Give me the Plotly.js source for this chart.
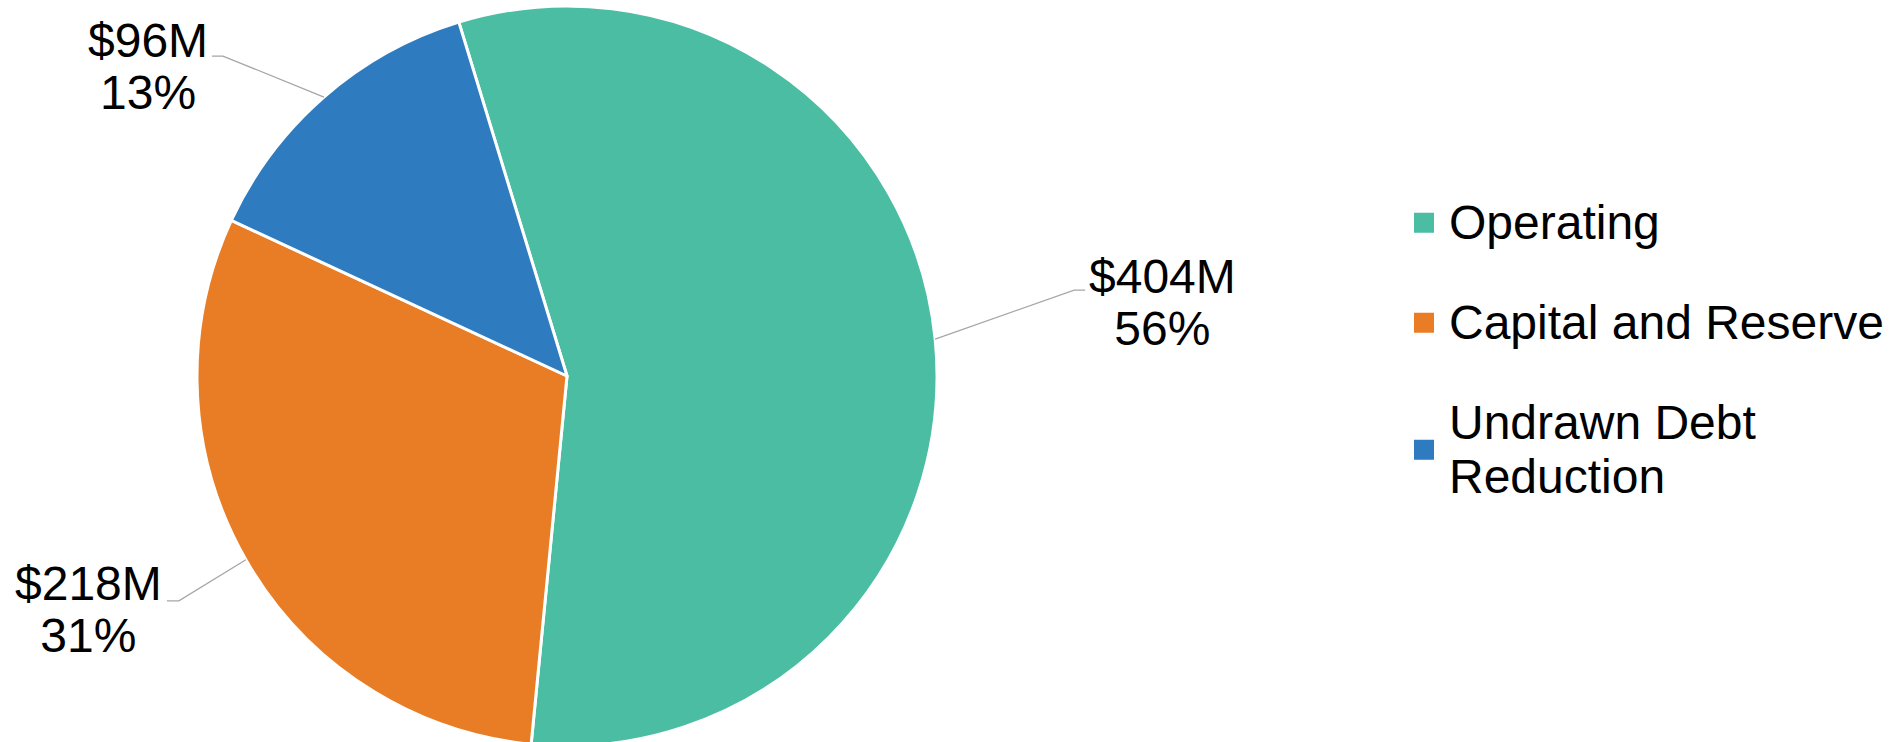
<!DOCTYPE html>
<html><head><meta charset="utf-8">
<script src="https://cdn.plot.ly/plotly-3.0.1.min.js"></script>
<style>html,body{margin:0;padding:0;overflow:hidden;background:#fff}#chart{width:1901px;height:746px}</style>
</head><body><div id="chart"></div>
<script>
// ---- data ----
const categories = ['Operating', 'Capital and Reserve', 'Undrawn Debt<br>Reduction'];
const values = [404, 218, 96];
const valueLabels = ['$404M', '$218M', '$96M'];
const percentLabels = ['56%', '31%', '13%'];
const colors = ['#4BBDA3', '#E97D25', '#2E7BBF'];

// ---- layout geometry / style ----
const W = 1901, H = 746, T = 6, PH = 740;
const CX = 567, CY = 376, R = 370;
const ROT = -17;
const FONT = 'Liberation Sans, Arial, sans-serif';
const TXT = 48;
const labelStyle = [
  {elbow: [139, -49], tail: 11, text: [227, -37]},
  {elbow: [-67, 41], tail: -12, text: [-157, 50]},
  {elbow: [-101, -41], tail: -11, text: [-176, -31]}
];

const px = x => x / W;
const py = y => 1 - (y - T) / PH;
const span = s => s.split('<br>').map(l => '<span style="font-size:' + TXT + 'px">' + l + '</span>').join('<br>');

const total = values.reduce((a, b) => a + b, 0);
let cum = 0;
const annotations = [], shapes = [];
values.forEach((v, i) => {
  const th = (ROT + 360 * (cum + v / 2) / total) * Math.PI / 180;
  cum += v;
  const ex = CX + R * Math.sin(th), ey = CY - R * Math.cos(th);
  const st = labelStyle[i];
  const bx = ex + st.elbow[0], by = ey + st.elbow[1];
  const tx = bx + st.tail;
  shapes.push({type: 'path', xref: 'paper', yref: 'paper',
    path: 'M' + px(ex) + ',' + py(ey) + ' L' + px(bx) + ',' + py(by) + ' L' + px(tx) + ',' + py(by),
    line: {color: '#A6A6A6', width: 1.3}});
  annotations.push({xref: 'paper', yref: 'paper', x: px(ex + st.text[0]), y: py(ey + st.text[1]),
    xanchor: 'center', yanchor: 'middle', showarrow: false, align: 'center',
    text: span(valueLabels[i]) + '<br>' + span(percentLabels[i]),
    font: {family: FONT, size: 40, color: '#000'}});
});

const pie = {
  type: 'pie', values: values, labels: categories, sort: false, direction: 'clockwise',
  rotation: ROT, marker: {colors: colors, line: {color: '#fff', width: 3}},
  textinfo: 'none', textposition: 'none', showlegend: false, hoverinfo: 'label+value',
  domain: {x: [px(CX - R), px(CX + R)], y: [0, 1]}
};
const legendTraces = categories.map((c, i) => ({
  type: 'scatter', mode: 'markers', x: [null], y: [null], name: span(c), legendgroup: 'g' + i,
  showlegend: true, hoverinfo: 'skip',
  marker: {symbol: 'square', size: 16, color: colors[i], line: {width: 4, color: colors[i]}}
}));

const layout = {
  width: W, height: H, margin: {l: 0, r: 0, t: T, b: 0, pad: 0},
  paper_bgcolor: '#fff', plot_bgcolor: '#fff',
  font: {family: FONT, color: '#000'},
  showlegend: true,
  legend: {x: px(1399), xanchor: 'left', y: py(189.3), yanchor: 'top',
    font: {family: FONT, size: 41.54, color: '#000'}, itemwidth: 40, tracegroupgap: 43,
    bgcolor: 'rgba(0,0,0,0)', borderwidth: 0},
  xaxis: {visible: false}, yaxis: {visible: false},
  annotations: annotations, shapes: shapes
};
Plotly.newPlot('chart', [pie].concat(legendTraces), layout, {displayModeBar: false, staticPlot: true});
</script></body></html>
